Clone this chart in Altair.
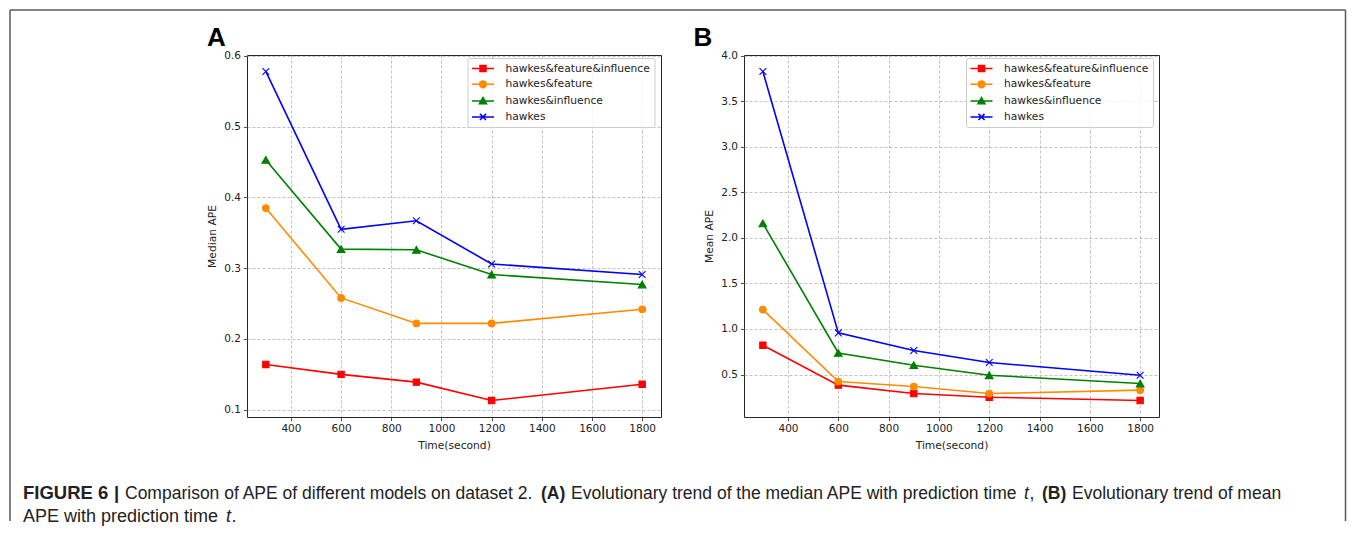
import altair as alt
import pandas as pd

# ---------------- data ----------------
times = [300, 600, 900, 1200, 1800]
models = ["hawkes&feature&influence", "hawkes&feature", "hawkes&influence", "hawkes"]

median_fi = [0.164, 0.150, 0.139, 0.113, 0.136]
median_f = [0.385, 0.258, 0.222, 0.222, 0.242]
median_i = [0.453, 0.327, 0.326, 0.291, 0.277]
median_h = [0.578, 0.355, 0.367, 0.306, 0.291]

mean_fi = [0.822, 0.383, 0.291, 0.251, 0.214]
mean_f = [1.213, 0.423, 0.368, 0.291, 0.328]
mean_i = [2.160, 0.737, 0.602, 0.492, 0.401]
mean_h = [3.828, 0.957, 0.763, 0.631, 0.492]

x_ticks = [400, 600, 800, 1000, 1200, 1400, 1600, 1800]
ya_ticks = [0.1, 0.2, 0.3, 0.4, 0.5, 0.6]
yb_ticks = [0.5, 1.0, 1.5, 2.0, 2.5, 3.0, 3.5, 4.0]

colors = ["#ff0000", "#ff8c00", "#008000", "#0000ff"]
markers = ["square", "circle", "triangle-up", "M-1,-1L1,1M-1,1L1,-1"]
marker_sizes = [40, 44, 60, 46]
legend_paths = [
    "M-2,0H2M-0.55,-0.55H0.55V0.55H-0.55Z",
    "M-2,0H2M0.62,0A0.62,0.62,0,1,1,-0.62,0A0.62,0.62,0,1,1,0.62,0Z",
    "M-2,0H2M0,-0.65L0.65,0.48L-0.65,0.48Z",
    "M-2,0H2M-0.55,-0.55L0.55,0.55M-0.55,0.55L0.55,-0.55",
]

TICK_FONT = "DejaVu Sans"
TXT = "#222222"


def long_df(series):
    rows = []
    for m, vals in zip(models, series):
        for t, v in zip(times, vals):
            rows.append({"time": t, "value": v, "model": m})
    return pd.DataFrame(rows)


one = pd.DataFrame({"k": [0]})


def cscale():
    return alt.Scale(domain=models, range=colors)


def pad_domain(vals):
    lo, hi = min(vals), max(vals)
    m = (hi - lo) * 0.05
    return [lo - m, hi + m]


def text_mark(txt, x, y, size, weight="normal", style="normal", font="Liberation Sans", color=TXT):
    return alt.Chart(one).mark_text(
        text=txt, font=font, fontSize=size, fontWeight=weight, fontStyle=style,
        align="left", baseline="alphabetic", color=color,
    ).encode(x=alt.value(x), y=alt.value(y))


def panel(series, yticks, ytitle, letter, letter_x, leg_x, extras):
    df = long_df(series)
    allv = [v for s in series for v in s]
    ydom = pad_domain(allv)
    xdom = pad_domain(times)

    x_enc = alt.X(
        "time:Q",
        scale=alt.Scale(domain=xdom, nice=False, zero=False),
        axis=alt.Axis(
            values=x_ticks, format="d", title="Time(second)",
            labelFont=TICK_FONT, labelFontSize=10.5, labelColor=TXT, labelPadding=3,
            labelFlush=False, tickColor=TXT, tickSize=3.5, tickWidth=0.8,
            domain=False, grid=True, gridDash=[3, 2], gridColor="#b4b4b4", gridWidth=0.8,
            titleFont=TICK_FONT, titleFontSize=10.7, titleFontWeight="normal",
            titleColor=TXT, titleY=28, titleBaseline="middle",
        ),
    )
    y_enc = alt.Y(
        "value:Q",
        scale=alt.Scale(domain=ydom, nice=False, zero=False),
        axis=alt.Axis(
            values=yticks, format=".1f", title=ytitle,
            labelFont=TICK_FONT, labelFontSize=10.5, labelColor=TXT, labelPadding=3,
            labelFlush=False, tickColor=TXT, tickSize=3.5, tickWidth=0.8,
            domain=False, grid=True, gridDash=[3, 2], gridColor="#b4b4b4", gridWidth=0.8,
            titleFont=TICK_FONT, titleFontSize=10.7, titleFontWeight="normal",
            titleColor=TXT, titleX=-35, titleBaseline="middle",
        ),
    )
    base = alt.Chart(df)
    layers = []
    for m, c in zip(models, colors):
        layers.append(
            base.transform_filter(alt.datum.model == m)
            .mark_line(strokeWidth=1.6, color=c)
            .encode(x=x_enc, y=y_enc)
        )
    for m, c, shp, sz in zip(models, colors, markers, marker_sizes):
        layers.append(
            base.transform_filter(alt.datum.model == m)
            .mark_point(shape=shp, size=sz, opacity=1, strokeWidth=1.1, fill=c, stroke=c)
            .encode(x=x_enc, y=y_enc)
        )
    leg = alt.Legend(
        orient="none", legendX=leg_x, legendY=3, title=None,
        labelFont=TICK_FONT, labelFontSize=10.7, labelColor=TXT, labelLimit=400,
        padding=4, strokeColor="#cccccc", fillColor="rgba(255,255,255,0.8)",
        cornerRadius=2, rowPadding=2.8, symbolOffset=5, labelOffset=16,
        symbolSize=121, symbolStrokeWidth=1.5,
    )
    layers.append(
        base.mark_point(size=121, opacity=1, clip=True, strokeWidth=1.5).encode(
            x=alt.value(-30), y=alt.value(-30),
            fill=alt.Fill("model:N", scale=cscale(), legend=leg),
            stroke=alt.Stroke("model:N", scale=cscale(), legend=leg),
            shape=alt.Shape("model:N", scale=alt.Scale(domain=models, range=legend_paths), legend=leg),
        )
    )
    layers.append(text_mark(letter, letter_x, -8.7, 26, weight="bold", color="#000000"))
    layers.extend(extras)
    return alt.layer(*layers)


# outer frame (kept inside the page width so the chart is not shrunk)
frame_col = "#5a5a5a"
FB = 466
FR = 1098.5
frame = [
    alt.Chart(one).mark_rule(color=frame_col, strokeWidth=1.5).encode(
        x=alt.value(-237), y=alt.value(-45), y2=alt.value(FB)),
    alt.Chart(one).mark_rule(color=frame_col, strokeWidth=1.5).encode(
        x=alt.value(-237), x2=alt.value(FR), y=alt.value(-45)),
    alt.Chart(one).mark_rule(color=frame_col, strokeWidth=1.5).encode(
        x=alt.value(FR), y=alt.value(-45), y2=alt.value(FB)),
]
CAP = 17.5
L1 = 444
L2 = 467
X0 = -224
caption = [
    text_mark("FIGURE 6", X0, L1, 18.5, weight="bold"),
    text_mark("|", -133, L1, 18.5, weight="bold"),
    text_mark("Comparison of APE of different models on dataset 2.", -122, L1, CAP),
    text_mark("(A)", 294, L1, CAP, weight="bold"),
    text_mark("Evolutionary trend of the median APE with prediction time", 324, L1, CAP),
    text_mark("t", 777, L1, CAP, style="italic"),
    text_mark(",", 782.5, L1, CAP),
    text_mark("(B)", 795, L1, CAP, weight="bold"),
    text_mark("Evolutionary trend of mean", 825, L1, CAP),
    text_mark("APE with prediction time", X0, L2, 18),
    text_mark("t", -21, L2, 18, style="italic"),
    text_mark(".", -15.5, L2, 18),
]

panel_a = panel([median_fi, median_f, median_i, median_h], ya_ticks, "Median APE",
                "A", -40, 220.5, frame + caption).properties(width=414, height=362)
panel_b = panel([mean_fi, mean_f, mean_i, mean_h], yb_ticks, "Mean APE",
                "B", -50.6, 222, []).properties(width=415, height=362)

chart = (
    alt.hconcat(panel_a, panel_b, spacing=83, bounds="flush")
    .resolve_scale(fill="independent", stroke="independent", shape="independent")
    .resolve_legend(fill="independent", stroke="independent", shape="independent")
    .properties(padding=0)
    .configure(padding=0)
    .configure_view(stroke="#262626", strokeWidth=1)
)

chart.save("out.html", embed_options={"renderer": "svg", "actions": False})
